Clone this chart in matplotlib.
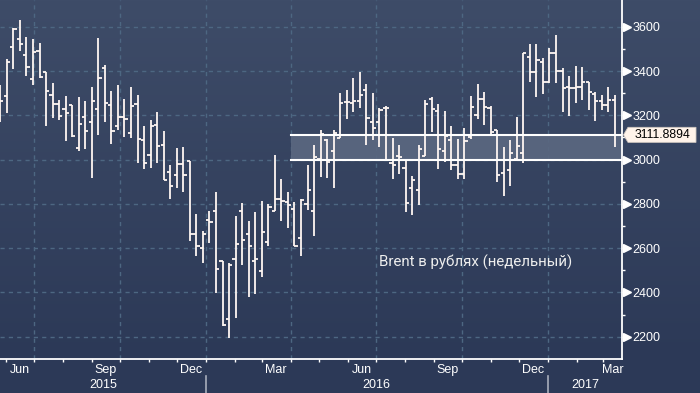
import numpy as np
import pandas as pd
import matplotlib
matplotlib.use('Agg')
import matplotlib.pyplot as plt
import matplotlib.dates as mdates
from matplotlib.transforms import blended_transform_factory
from matplotlib.patches import Polygon, Rectangle

# ---------------- data (weekly Brent in RUB) ----------------
start_date = '2015-05-26'
n_weeks = 95
opens = [3224, 3287, 3507, 3544, 3472, 3362, 3489, 3397, 3291, 3249,
         3228, 3246, 3052, 3191, 3172, 3228, 3412, 3245, 3150, 3191,
         3120, 3249, 3088, 3023, 3156, 3065, 2942, 2930, 2978, 2992,
         2666, 2603, 2725, 2770, 2541, 2278, 2549, 2770, 2666, 2544,
         2496, 2630, 2770, 2824, 2810, 2775, 2644, 2799, 2766, 3001,
         3087, 3041, 3096, 3258, 3255, 3263, 3314, 3169, 3169, 3231,
         2983, 3017, 2960, 2874, 2861, 3017, 3273, 3220, 3040, 3088,
         2975, 2937, 3100, 3201, 3275, 3234, 3133, 2939, 2952, 3002,
         3032, 3462, 3397, 3439, 3350, 3480, 3401, 3329, 3322, 3329,
         3350, 3296, 3266, 3246, 3269]
highs = [3336, 3454, 3593, 3630, 3554, 3544, 3528, 3397, 3346, 3269,
         3287, 3246, 3282, 3264, 3326, 3549, 3427, 3309, 3336, 3273,
         3326, 3291, 3151, 3178, 3215, 3129, 2976, 3052, 3056, 2992,
         2753, 2677, 2767, 2853, 2541, 2535, 2744, 2802, 2722, 2763,
         2815, 2799, 3020, 2912, 2853, 2808, 2821, 2975, 3067, 3136,
         3091, 3136, 3299, 3314, 3367, 3395, 3341, 3299, 3233, 3242,
         3097, 3064, 2998, 2925, 3065, 3270, 3281, 3252, 3219, 3151,
         3092, 3145, 3287, 3341, 3305, 3240, 3133, 3056, 3088, 3192,
         3480, 3522, 3522, 3457, 3502, 3563, 3412, 3377, 3422, 3419,
         3350, 3306, 3291, 3326, 3291]
lows = [3171, 3211, 3409, 3492, 3377, 3336, 3370, 3153, 3189, 3178,
        3085, 3100, 3040, 3047, 2915, 3112, 3171, 3071, 3135, 3103,
        3098, 2985, 2956, 2963, 2983, 2910, 2823, 2872, 2854, 2633,
        2564, 2533, 2624, 2398, 2247, 2194, 2285, 2523, 2380, 2392,
        2470, 2609, 2770, 2723, 2690, 2609, 2564, 2772, 2654, 2922,
        2915, 2872, 3096, 3183, 3216, 3231, 3067, 3088, 3058, 2998,
        2913, 2937, 2763, 2749, 2797, 3017, 3124, 2958, 2990, 2952,
        2913, 2913, 3092, 3184, 3156, 3106, 2901, 2837, 2880, 3002,
        2983, 3349, 3284, 3296, 3344, 3344, 3216, 3198, 3254, 3269,
        3224, 3175, 3224, 3216, 3058]
closes = [3266, 3439, 3588, 3522, 3417, 3484, 3374, 3309, 3249, 3195,
          3209, 3107, 3163, 3127, 3264, 3367, 3254, 3127, 3191, 3183,
          3240, 3092, 2983, 3151, 3062, 2910, 2879, 2978, 2930, 2666,
          2612, 2662, 2716, 2508, 2252, 2526, 2621, 2636, 2612, 2553,
          2671, 2784, 2820, 2814, 2794, 2612, 2817, 2861, 3011, 3115,
          2987, 3118, 3254, 3258, 3263, 3291, 3186, 3145, 3224, 3234,
          2976, 3010, 2802, 2907, 3046, 3252, 3227, 3050, 3106, 2975,
          2937, 3082, 3238, 3272, 3236, 3125, 2930, 2998, 3028, 3061,
          3480, 3397, 3450, 3350, 3480, 3401, 3322, 3322, 3329, 3350,
          3306, 3266, 3246, 3269, 3111.8894]
last_price = 3111.8894
band_low = 3000
band_start = '2016-04-01'

y_major = [2200, 2400, 2600, 2800, 3000, 3200, 3400, 3600]
y_minor = [2300, 2500, 2700, 2900, 3100, 3300, 3500]
month_label_dates = ['2015-06-01', '2015-09-01', '2015-12-01', '2016-03-01',
                     '2016-06-01', '2016-09-01', '2016-12-01', '2017-03-01']
month_labels = ['Jun', 'Sep', 'Dec', 'Mar', 'Jun', 'Sep', 'Dec', 'Mar']
years = ['2015', '2016', '2017']
annotation = 'Brent в рублях (недельный)'

# ---------------- figure ----------------
W, H = 700, 393
fig = plt.figure(figsize=(W / 100, H / 100), dpi=100)
fig.patch.set_facecolor('#2c3957')

# gradient background
bg = fig.add_axes([0, 0, 1, 1], zorder=-10)
top = np.array([62, 76, 104]) / 255
bot = np.array([44, 57, 87]) / 255
rows = np.arange(H)
t = np.clip(rows / 360.0, 0, 1)[:, None]
grad = top[None, :] * (1 - t) + bot[None, :] * t
img = np.repeat(grad[:, None, :], 4, axis=1)
bg.imshow(img, aspect='auto', extent=[0, 1, 0, 1], origin='upper')
bg.axis('off')

ax_right = 622.3 / W
ax_bottom = 1 - 359.3 / H
ax = fig.add_axes([0, ax_bottom, ax_right, 1 - ax_bottom])
ax.set_facecolor('none')

dates = pd.date_range(start_date, periods=n_weeks, freq='7D')
x = mdates.date2num(dates)
x0 = x[0] - 0.3
x1 = x[0] + 666
ax.set_xlim(x0, x1)
ax.set_ylim(2098, 3721)

tickfont = ['Liberation Sans', 'DejaVu Sans']
fs = 9

# grid
grid_col = '#4d6782'
for v in y_major:
    ax.axhline(v, color=grid_col, lw=1, ls=(0, (3, 3)), zorder=1)
qstarts = pd.date_range('2015-07-01', '2017-03-01', freq='QS-JAN')
for q in mdates.date2num(qstarts):
    ax.axvline(q, color=grid_col, lw=1, ls=(0, (3, 3)), zorder=1)

# band
bx = mdates.date2num(pd.Timestamp(band_start))
ax.add_patch(Rectangle((bx, band_low), x1 - bx, last_price - band_low,
                       facecolor='#5a6780', edgecolor='none', alpha=0.92, zorder=2))
ax.plot([bx, x1], [last_price, last_price], color='white', lw=1.5, zorder=4)
ax.plot([bx, x1], [band_low, band_low], color='white', lw=1.5, zorder=4)

# OHLC bars
bar_col = '#fff6f2'
tick = 3.4
ax.vlines(x, lows, highs, color=bar_col, lw=1.3, zorder=3)
ax.hlines(opens, x - tick, x, color=bar_col, lw=1.3, zorder=3)
ax.hlines(closes, x, x + tick, color=bar_col, lw=1.3, zorder=3)

# spines
for s in ['top', 'left']:
    ax.spines[s].set_visible(False)
for s in ['right', 'bottom']:
    ax.spines[s].set_color('white')
    ax.spines[s].set_linewidth(1.3)

# y axis
ax.yaxis.tick_right()
ax.set_yticks(y_major)
ax.set_yticks(y_minor, minor=True)
ax.tick_params(axis='y', which='major', length=2.5, width=1, color='white',
               labelcolor='white', pad=5, labelsize=fs)
ax.tick_params(axis='y', which='minor', length=2.5, width=1, color='white')
for lab in ax.get_yticklabels():
    lab.set_family(tickfont)
trans_ay = blended_transform_factory(ax.transAxes, ax.transData)
ax.plot([1 + 4.5 / 622.3] * len(y_major), y_major, ls='none', marker='>',
        ms=5.5, color='white', mec='white', transform=trans_ay, clip_on=False, zorder=5)

# x axis
month_starts = mdates.date2num(pd.date_range('2015-06-01', '2017-03-01', freq='MS'))
ax.set_xticks(month_starts)
ax.set_xticklabels([])
ax.tick_params(axis='x', which='major', length=2.5, width=1, color='white', direction='out')

trans_xa = blended_transform_factory(ax.transData, ax.transAxes)
half = 10.5
for d, lab in zip(month_label_dates, month_labels):
    ts = pd.Timestamp(d)
    mid = mdates.date2num(ts) + ts.days_in_month / 2
    mid = min(max(mid, x0 + half), x1 - half)
    ax.text(mid, -10.5 / 359.3, lab, transform=trans_xa, ha='center', va='center',
            color='white', fontsize=fs, family=tickfont)

for y in years:
    ys = max(mdates.date2num(pd.Timestamp(y + '-01-01')), x0)
    ye = min(mdates.date2num(pd.Timestamp(str(int(y) + 1) + '-01-01')), x1)
    ax.text((ys + ye) / 2, -25.5 / 359.3, y, transform=trans_xa, ha='center', va='center',
            color='white', fontsize=fs, family=tickfont)
    if int(y) > 2015:
        ax.plot([ys, ys], [-17 / 359.3, -34 / 359.3], color='#a8aebb', lw=1.2,
                transform=trans_xa, clip_on=False)

# last price label
trans_fy = blended_transform_factory(fig.transFigure, ax.transData)
hh = 34
poly = Polygon([(623.5 / W, last_price), (628 / W, last_price + hh), (696 / W, last_price + hh),
                (696 / W, last_price - hh), (628 / W, last_price - hh)],
               closed=True, facecolor='#fff3ea', edgecolor='#cfc6c0', lw=0.6,
               transform=trans_fy, clip_on=False, zorder=6)
ax.add_patch(poly)
ax.text(662 / W, last_price, f'{last_price:.4f}', transform=trans_fy, ha='center', va='center',
        color='black', fontsize=8.8, family=tickfont, zorder=7)

# annotation
ax.text(379 / 622.3, 1 - 262 / 359.3, annotation, transform=ax.transAxes, ha='left',
        va='center', color='#eeeeee', fontsize=10.8, family=['Roboto', 'DejaVu Sans'], zorder=5)

fig.savefig('out.png', dpi=100, facecolor=fig.get_facecolor())
